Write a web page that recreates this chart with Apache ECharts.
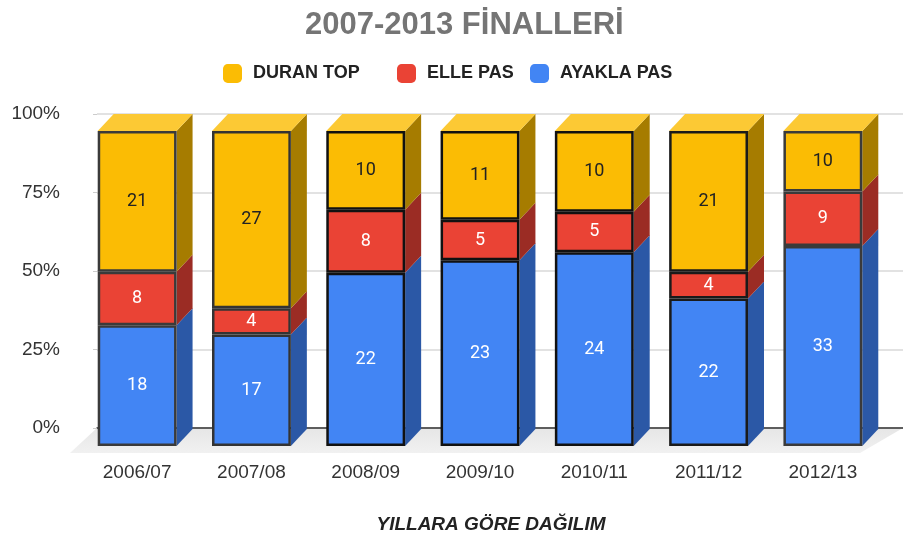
<!DOCTYPE html>
<html>
<head>
<meta charset="utf-8">
<script src="https://cdn.jsdelivr.net/npm/echarts@6/dist/echarts.min.js"></script>
<style>
  html, body { margin: 0; padding: 0; background: #fff; }
  #chart { width: 903px; height: 541px; }
</style>
</head>
<body>
<div id="chart"></div>
<script>
// seasons and raw counts per goal type
const seasons = ["2006/07", "2007/08", "2008/09", "2009/10", "2010/11", "2011/12", "2012/13"];
const ayaklaPas = [18, 17, 22, 23, 24, 22, 33];
const ellePas = [8, 4, 8, 5, 5, 4, 9];
const duranTop = [21, 27, 10, 11, 10, 21, 10];
const yTicks = [0, 25, 50, 75, 100];

// 3d look
const DX = 16;
const DY = -17;
const FONT = "'Liberation Sans', Arial, sans-serif";

// front plane / back wall (pixels)
const front = { left: 80, right: 23, top: 131, bottom: 95 };
const back = { left: 97, right: 0, top: 114, bottom: 113 };

const layers = [
  { name: "AYAKLA PAS", data: ayaklaPas, color: "#4285f4", side: "#2b58a6", label: "#fff" },
  { name: "ELLE PAS", data: ellePas, color: "#ea4335", side: "#9b2c24", label: "#fff" },
  { name: "DURAN TOP", data: duranTop, color: "#fbbc04", side: "#a67c00", label: "#222", topFace: "#fcc934" },
];

const borderColors = ["#3a3a3a", "#333", "#111", "#111", "#111", "#1a1a1a", "#3a3a3a"];

// 100% stacking
const totals = seasons.map((s, i) => layers.reduce((a, l) => a + l.data[i], 0));

const barSeries = [];
const faceData = [];
layers.forEach((l, li) => {
  barSeries.push({
    name: l.name,
    type: "bar",
    stack: "all",
    xAxisIndex: 0,
    yAxisIndex: 0,
    barWidth: "69%",
    z: 3,
    itemStyle: { color: l.color, borderWidth: 2.5 },
    label: {
      show: true,
      position: "inside",
      color: l.label,
      fontSize: 18,
      fontFamily: "Roboto, sans-serif",
      formatter: (p) => p.data.raw,
    },
    data: seasons.map((s, i) => ({
      value: (l.data[i] / totals[i]) * 100,
      raw: l.data[i],
      itemStyle: { borderColor: borderColors[i] },
    })),
  });
});

// side and top faces
seasons.forEach((s, i) => {
  let base = 0;
  layers.forEach((l, li) => {
    const h = (l.data[i] / totals[i]) * 100;
    faceData.push([i, base, base + h, li]);
    base += h;
  });
});

function renderFace(params, api) {
  const i = api.value(0);
  const b = api.coord([i, api.value(1)]);
  const t = api.coord([i, api.value(2)]);
  const l = layers[api.value(3)];
  const w = api.size([1, 0])[0] * 0.69;
  const x0 = b[0] - w / 2;
  const x1 = b[0] + w / 2;
  const children = [
    {
      type: "polygon",
      shape: { points: [[x1, t[1]], [x1 + DX, t[1] + DY], [x1 + DX, b[1] + DY], [x1, b[1]]] },
      style: { fill: l.side },
    },
  ];
  if (l.topFace) {
    children.push({
      type: "polygon",
      shape: { points: [[x0, t[1]], [x0 + DX, t[1] + DY], [x1 + DX, t[1] + DY], [x1, t[1]]] },
      style: { fill: l.topFace },
    });
  }
  return { type: "group", children: children };
}

const legendStyle = {
  top: 59,
  itemWidth: 19,
  itemHeight: 19,
  icon: "roundRect",
  textStyle: { fontSize: 18, fontWeight: "bold", color: "#222", fontFamily: FONT, padding: [0, 0, 0, 6] },
};

const chart = echarts.init(document.getElementById("chart"));
const H = 541, W = 903;

chart.setOption({
  backgroundColor: "#fff",
  animation: false,
  title: {
    text: "2007-2013 FİNALLERİ",
    left: 300,
    top: 5,
    textStyle: { fontSize: 31, fontWeight: "bold", color: "#757575", fontFamily: FONT },
  },
  legend: [
    Object.assign({ left: 218, data: ["DURAN TOP"] }, legendStyle),
    Object.assign({ left: 392, data: ["ELLE PAS"] }, legendStyle),
    Object.assign({ left: 525, data: ["AYAKLA PAS"] }, legendStyle),
  ],
  graphic: [
    {
      type: "polygon",
      z: -1,
      shape: {
        points: [
          [back.left, H - back.bottom],
          [W - back.right, H - back.bottom],
          [W - front.right - 20, H - front.bottom + 7],
          [front.left - 10, H - front.bottom + 7],
        ],
      },
      style: {
        fill: {
          type: "linear", x: 0, y: 0, x2: 0, y2: 1,
          colorStops: [{ offset: 0, color: "#e6e6e6" }, { offset: 1, color: "#f1f1f1" }],
        },
      },
    },
  ],
  grid: [
    Object.assign({ containLabel: false }, front),
    Object.assign({ containLabel: false }, back),
  ],
  xAxis: [
    {
      type: "category",
      gridIndex: 0,
      data: seasons,
      axisLine: { show: false },
      axisTick: { show: false },
      axisLabel: { margin: 17, fontSize: 19, color: "#333", fontFamily: FONT },
      name: "YILLARA GÖRE DAĞILIM",
      nameLocation: "middle",
      nameGap: 69,
      nameTextStyle: {
        fontSize: 19, fontWeight: "bold", fontStyle: "italic", color: "#222",
        fontFamily: FONT, padding: [0, 0, 0, 22],
      },
    },
    {
      type: "value",
      gridIndex: 1,
      min: 0,
      max: 1,
      axisLine: { show: true, lineStyle: { color: "#333", width: 1.5 } },
      axisTick: { show: false },
      axisLabel: { show: false },
      splitLine: { show: false },
    },
  ],
  yAxis: [
    { type: "value", gridIndex: 0, min: 0, max: 100, show: false },
    {
      type: "value",
      gridIndex: 1,
      min: yTicks[0],
      max: yTicks[yTicks.length - 1],
      interval: 25,
      axisLine: { show: false },
      axisTick: { show: true, length: 4, lineStyle: { color: "#ccc" } },
      axisLabel: { margin: 37, fontSize: 19, color: "#333", fontFamily: FONT, formatter: "{value}%" },
      splitLine: { lineStyle: { color: "#d9d9d9", width: 1.5 } },
    },
  ],
  series: [
    {
      type: "custom",
      xAxisIndex: 0,
      yAxisIndex: 0,
      z: 2,
      silent: true,
      renderItem: renderFace,
      data: faceData,
    },
  ].concat(barSeries),
});
</script>
</body>
</html>
